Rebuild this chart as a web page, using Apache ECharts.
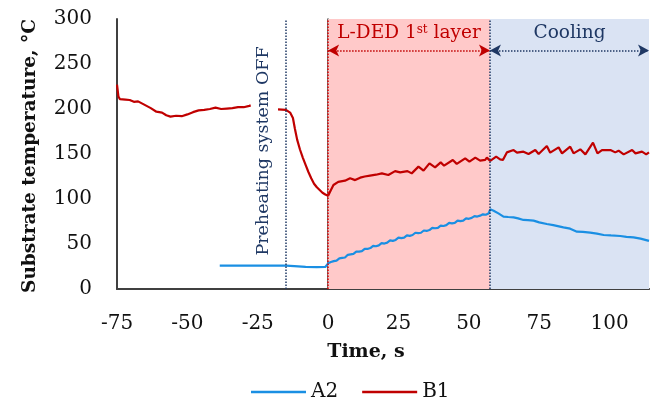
<!DOCTYPE html>
<html>
<head>
<meta charset="utf-8">
<script src="https://cdn.jsdelivr.net/npm/echarts@6/dist/echarts.min.js"></script>
<style>
html,body{margin:0;padding:0;background:#fff;}
#c{width:655px;height:397px;}
</style>
</head>
<body>
<div id="c"></div>
<script>
// ---- data ----
const xTicks = [-75, -50, -25, 0, 25, 50, 75, 100];
const yTicks = [0, 50, 100, 150, 200, 250, 300];

const timeA2 = [-38.5, -30, -20, -15, -12, -8, -4, -1, 0, 1, 2, 3, 4, 5, 6, 7, 8, 9, 10, 11, 12, 13, 14, 15, 16, 17, 18, 19, 20, 21, 22, 23, 24, 25, 26, 27, 28, 29, 30, 31, 32, 33, 34, 35, 36, 37, 38, 39, 40, 41, 42, 43, 44, 45, 46, 47, 48, 49, 50, 51, 52, 53, 54, 55, 56, 57, 57.6, 58.8, 60.5, 62.3, 64, 65.9, 67.5, 69.4, 71, 73, 75, 77.7, 80, 83.6, 86, 88.4, 90.5, 93.1, 95.5, 97.9, 100.5, 103.8, 106, 108.5, 111, 114];
const tempA2 = [26, 26, 26, 26, 25.5, 24.5, 24.3, 24.5, 28.5, 30, 31, 31.5, 34, 34.5, 35, 38, 38.5, 39, 41.5, 41.5, 42, 44.5, 44.5, 45.5, 48, 47.5, 48.5, 51, 50.5, 51.5, 54, 53.5, 54.5, 57, 56.5, 57, 59.5, 59, 60, 62.5, 62, 62.5, 65, 64.5, 65.5, 68, 67.5, 68, 70.5, 70, 71, 73.5, 73, 73.5, 76, 75.5, 76, 78.5, 78, 79, 81, 80.5, 81.5, 83, 82.5, 84, 88.5, 87, 84, 80.4, 80, 79.6, 78.5, 76.7, 76.5, 76, 74, 72.2, 71, 68.5, 67, 63.7, 63.5, 62.6, 61.5, 60, 59.5, 58.9, 58, 57.4, 56, 53.5];

const timeB1 = [-75, -74.5, -74, -72, -70.5, -69, -67.5, -66, -64.5, -63, -61, -59, -57.5, -56, -54, -52, -50, -48, -46, -44, -42, -40, -38, -36, -34, -32, -30, -28, -27.5, -23, -17.8, -15, -13.5, -12.5, -11.8, -11, -10, -9, -8, -7, -6, -5, -4, -3, -2, -1, 0, 1, 1.9, 3.6, 6, 7.8, 9.6, 11.4, 13, 14.9, 17, 19.1, 21.4, 23.8, 25.6, 28.2, 29.7, 32.1, 33.9, 36, 38, 40, 41.2, 44.3, 45.7, 48.7, 50.2, 52.3, 54, 55.8, 56.4, 57.6, 59.7, 61.1, 62.1, 63.5, 65.9, 67.1, 69.4, 71.2, 73.6, 74.8, 77.7, 78.9, 81.9, 83.1, 86, 87.2, 89.6, 91.4, 94.1, 95.7, 97.3, 100.3, 102, 103.2, 105, 108, 109.2, 111.5, 113, 114];
const tempB1 = [227, 214, 211, 210.5, 210, 208, 208.5, 206, 203.5, 201, 197, 196, 193, 191.5, 192.5, 192, 194, 196.5, 198.5, 199, 200, 201.5, 200, 200.5, 201, 202, 202, 203.5, 204, null, 199.5, 199, 196, 190, 178, 166, 155, 146, 138, 130, 123, 117, 113, 110, 107, 105, 103.5, 110, 115.6, 119, 120.4, 123, 121, 123.7, 125, 126, 127, 128.5, 126.7, 131, 129.6, 131, 128.5, 136, 131.5, 139.6, 135.2, 140.7, 137, 143.3, 139, 145.2, 141.5, 146, 142.6, 143.5, 146, 142.4, 147, 144, 143.3, 151.8, 154.4, 151.5, 152.6, 150, 154.4, 150, 158.9, 151.5, 157.4, 150.7, 158.1, 150.7, 155.2, 149.6, 162.6, 150.7, 154.4, 154.4, 151.8, 153.7, 149.6, 154.4, 150.7, 152.6, 149.6, 151.8];

const phaseBounds = [-15, 0, 57.5, 114];
const phaseLabels = ['Preheating system OFF', 'L-DED 1', 'st', ' layer', 'Cooling'];
const seriesNames = ['A2', 'B1'];

// ---- chart ----
const FONT = 'DejaVu Serif';
const NAVY = '#1f3864';
const RED = '#c00000';
const BLUE = '#1a8fe3';
const chart = echarts.init(document.getElementById('c'), null, {renderer: 'canvas'});

const pairs = (t, v) => t.map((x, i) => [x, v[i] === null ? '-' : v[i]]);

const hiddenAxis = {
  axisLine: {show: true, lineStyle: {color: '#404040', width: 1.5}},
  axisTick: {show: false}, axisLabel: {show: false}, splitLine: {show: false}
};

chart.setOption({
  animation: false,
  grid: {left: 117, right: 6, top: 19, bottom: 108, containLabel: false},
  xAxis: [{
    type: 'value', min: -75, max: 114, interval: 25,
    axisLine: {show: true, onZero: false, lineStyle: {color: '#404040', width: 2}},
    axisTick: {show: false}, splitLine: {show: false},
    axisLabel: {fontFamily: FONT, fontSize: 20, color: '#111', margin: 25, showMaxLabel: false,
      formatter: v => xTicks.includes(v) ? String(v) : ''}
  }, Object.assign({type: 'value', min: -75, max: 114, position: 'top'}, hiddenAxis)],
  yAxis: [{
    type: 'value', min: 0, max: 300, interval: 50,
    axisLine: {show: true, onZero: false, lineStyle: {color: '#404040', width: 2}},
    axisTick: {show: false}, splitLine: {show: false},
    axisLabel: {fontFamily: FONT, fontSize: 20, color: '#111', margin: 25,
      formatter: v => yTicks.includes(v) ? String(v) : ''}
  }, Object.assign({type: 'value', min: 0, max: 300, position: 'right'}, hiddenAxis)],
  legend: {
    data: seriesNames, top: 377, left: 246, itemWidth: 55, itemHeight: 2.5, itemGap: 24,
    icon: 'rect',
    textStyle: {fontFamily: FONT, fontSize: 20, color: '#111'}
  },
  series: [
    {
      type: 'line', data: [], z: 1, silent: true,
      markArea: {
        silent: true,
        data: [
          [{xAxis: phaseBounds[1], itemStyle: {color: '#ffc9c9'}}, {xAxis: phaseBounds[2]}],
          [{xAxis: phaseBounds[2], itemStyle: {color: '#dae3f3'}}, {xAxis: phaseBounds[3]}]
        ]
      },
      markLine: {
        silent: true, symbol: 'none', label: {show: false},
        data: [
          {xAxis: phaseBounds[0], lineStyle: {color: NAVY, type: 'dotted', width: 1.5}},
          {xAxis: phaseBounds[1], lineStyle: {color: '#e00000', type: 'dotted', width: 1.5}},
          {xAxis: phaseBounds[2], lineStyle: {color: NAVY, type: 'dotted', width: 1.5}},
          [{coord: [phaseBounds[1], 265], symbol: 'arrow', symbolSize: [9, 11], lineStyle: {color: RED, type: 'dotted', width: 1.5}},
           {coord: [phaseBounds[2], 265], symbol: 'arrow', symbolSize: [9, 11]}],
          [{coord: [phaseBounds[2], 265], symbol: 'arrow', symbolSize: [9, 11], lineStyle: {color: NAVY, type: 'dotted', width: 1.5}},
           {coord: [phaseBounds[3], 265], symbol: 'arrow', symbolSize: [9, 11]}]
        ]
      }
    },
    {
      name: seriesNames[0], type: 'line', z: 3, symbol: 'none', showSymbol: false,
      data: pairs(timeA2, tempA2), color: BLUE,
      itemStyle: {color: BLUE},
      lineStyle: {width: 2.2, color: BLUE}
    },
    {
      name: seriesNames[1], type: 'line', z: 3, symbol: 'none', showSymbol: false, connectNulls: false,
      data: pairs(timeB1, tempB1), color: RED,
      itemStyle: {color: RED},
      lineStyle: {width: 2.2, color: RED}
    }
  ]
});

const px = (x, y) => chart.convertToPixel({gridIndex: 0}, [x, y]);
const pPre = px(phaseBounds[0], 148);
const pLded = px((phaseBounds[1] + phaseBounds[2]) / 2, 284);
const pCool = px((phaseBounds[2] + phaseBounds[3]) / 2, 284);

chart.setOption({
  graphic: [
    {type: 'text', x: pPre[0] - 22, y: 151, rotation: Math.PI / 2, z: 10,
     style: {text: phaseLabels[0], fontFamily: FONT, fontSize: 17.5, fill: NAVY, align: 'center', verticalAlign: 'middle'}},
    {type: 'text', x: pLded[0], y: pLded[1], z: 10,
     style: {text: '{a|' + phaseLabels[1] + '}{s|' + phaseLabels[2] + '}{a|' + phaseLabels[3] + '}',
       align: 'center', verticalAlign: 'middle',
       rich: {a: {fontFamily: FONT, fontSize: 18.5, fill: RED, color: RED},
              s: {fontFamily: FONT, fontSize: 12, fill: RED, color: RED, verticalAlign: 'top', padding: [0, 0, 8, 0]}}}},
    {type: 'text', x: pCool[0], y: pCool[1], z: 10,
     style: {text: phaseLabels[4], fontFamily: FONT, fontSize: 18.5, fill: NAVY, align: 'center', verticalAlign: 'middle'}},
    {type: 'text', x: 366, y: 352, z: 10,
     style: {text: 'Time, s', fontFamily: FONT, fontSize: 19, fontWeight: 'bold', fill: '#111', align: 'center', verticalAlign: 'middle'}},
    {type: 'text', x: 30, y: 156, rotation: Math.PI / 2, z: 10,
     style: {text: 'Substrate temperature, °C', fontFamily: FONT, fontSize: 18.5, fontWeight: 'bold', fill: '#111', align: 'center', verticalAlign: 'middle'}}
  ]
});
</script>
</body>
</html>
